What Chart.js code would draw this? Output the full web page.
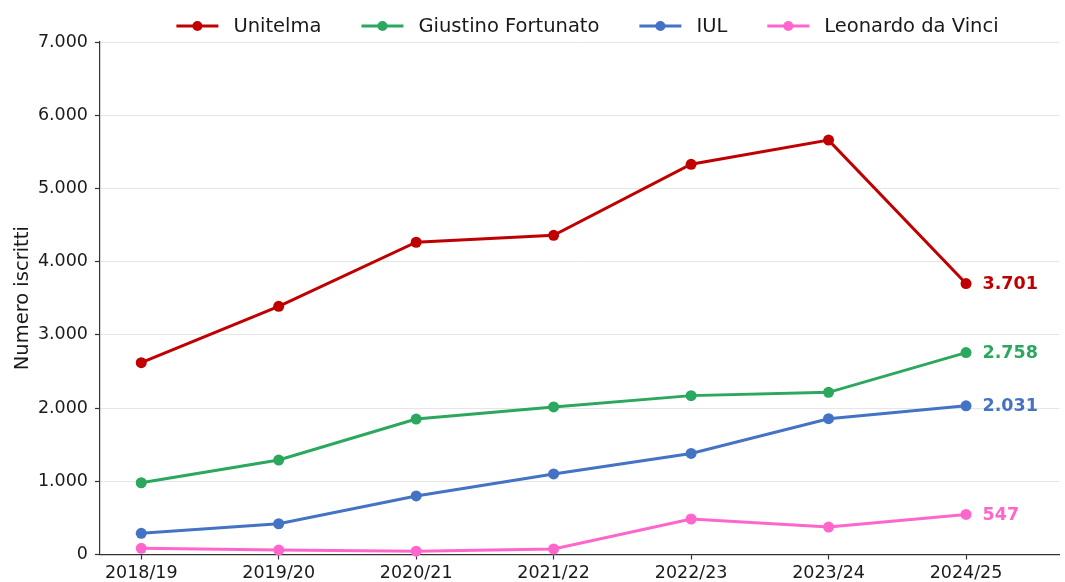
<!DOCTYPE html>
<html>
<head>
<meta charset="utf-8">
<script src="https://cdn.jsdelivr.net/npm/chart.js@4.4.1/dist/chart.umd.min.js"></script>
<style>
  html, body { margin: 0; padding: 0; background: #ffffff; overflow: hidden; }
  canvas { display: block; }
</style>
</head>
<body>
<canvas id="c" width="1065" height="582" style="width:1065px;height:582px"></canvas>
<script>
// ---- data ----
const categories = ['2018/19', '2019/20', '2020/21', '2021/22', '2022/23', '2023/24', '2024/25'];
const seriesNames = ['Unitelma', 'Giustino Fortunato', 'IUL', 'Leonardo da Vinci'];
const unitelma = [2620, 3390, 4265, 4360, 5330, 5660, 3701];
const giustinoFortunato = [980, 1290, 1850, 2015, 2170, 2215, 2758];
const iul = [290, 420, 800, 1100, 1380, 1855, 2031];
const leonardoDaVinci = [85, 60, 45, 75, 485, 375, 547];
const yTicks = [0, 1000, 2000, 3000, 4000, 5000, 6000, 7000];
const yTitle = 'Numero iscritti';

const colors = ['#C00000', '#2BA75E', '#4472C4', '#FF66CC'];
const seriesValues = [unitelma, giustinoFortunato, iul, leonardoDaVinci];

const fmt = v => String(v).replace(/\B(?=(\d{3})+(?!\d))/g, '.');
const FONT = "'DejaVu Sans', sans-serif";

const datasets = seriesNames.map((name, k) => ({
  label: name,
  data: seriesValues[k].map((v, i) => ({ x: i, y: v })),
  borderColor: colors[k],
  backgroundColor: colors[k],
  pointBackgroundColor: colors[k],
  pointBorderColor: colors[k],
  borderWidth: 3,
  pointRadius: 5.5,
  pointBorderWidth: 0,
  tension: 0,
  clip: false
}));

// end-of-line value labels
const endLabels = {
  id: 'endLabels',
  afterDatasetsDraw(chart) {
    const ctx = chart.ctx;
    ctx.save();
    ctx.font = "bold 17.5px " + FONT;
    ctx.textAlign = 'left';
    ctx.textBaseline = 'middle';
    chart.data.datasets.forEach((ds, k) => {
      const meta = chart.getDatasetMeta(k);
      const pt = meta.data[meta.data.length - 1];
      const val = ds.data[ds.data.length - 1].y;
      ctx.fillStyle = ds.borderColor;
      ctx.fillText(fmt(val), pt.x + 16.5, pt.y + 1);
    });
    ctx.restore();
  }
};

// legend (line + marker, like the reference)
const lineLegend = {
  id: 'lineLegend',
  afterDraw(chart) {
    const ctx = chart.ctx;
    ctx.save();
    ctx.font = "19.5px " + FONT;
    ctx.textBaseline = 'middle';
    ctx.textAlign = 'left';
    const symW = 42, gapT = 15, gapI = 40;
    const items = chart.data.datasets.map(ds => ({ ds, w: ctx.measureText(ds.label).width }));
    const total = items.reduce((s, it) => s + symW + gapT + it.w, 0) + gapI * (items.length - 1);
    let x = 587.5 - total / 2;
    const y = 26;
    items.forEach(it => {
      ctx.strokeStyle = it.ds.borderColor;
      ctx.lineWidth = 3;
      ctx.beginPath();
      ctx.moveTo(x, y);
      ctx.lineTo(x + symW, y);
      ctx.stroke();
      ctx.fillStyle = it.ds.borderColor;
      ctx.beginPath();
      ctx.arc(x + symW / 2, y, 5, 0, Math.PI * 2);
      ctx.fill();
      ctx.fillStyle = '#1a1a1a';
      ctx.fillText(it.ds.label, x + symW + gapT, y + 1);
      x += symW + gapT + it.w + gapI;
    });
    ctx.restore();
  }
};

new Chart(document.getElementById('c'), {
  type: 'line',
  data: { datasets },
  options: {
    responsive: false,
    maintainAspectRatio: false,
    devicePixelRatio: 1,
    animation: false,
    layout: { padding: { top: 42, right: 0, left: 0, bottom: 0 } },
    plugins: {
      legend: { display: false },
      tooltip: { enabled: false }
    },
    scales: {
      x: {
        type: 'linear',
        min: -0.3,
        max: 6.68,
        afterBuildTicks: s => { s.ticks = categories.map((_, i) => ({ value: i })); },
        afterFit: s => { s.height = 27.5; s.paddingRight = 0; s.paddingLeft = 0; },
        ticks: {
          callback: v => categories[v] ?? '',
          font: { family: FONT, size: 17.5 },
          color: '#1a1a1a',
          padding: 3,
          maxRotation: 0,
          autoSkip: false,
          includeBounds: false
        },
        grid: {
          display: true,
          drawOnChartArea: false,
          drawTicks: true,
          tickLength: 5,
          tickColor: '#333333',
          tickWidth: 1.2
        },
        border: { display: true, color: '#333333', width: 1.2 }
      },
      y: {
        min: 0,
        max: 7000,
        afterBuildTicks: s => { s.ticks = yTicks.map(v => ({ value: v })); },
        afterFit: s => { s.width = 100; },
        ticks: {
          callback: v => fmt(v),
          font: { family: FONT, size: 17.5 },
          color: '#1a1a1a',
          padding: 7
        },
        grid: {
          color: '#e6e6e6',
          lineWidth: 1,
          drawTicks: true,
          tickLength: 5,
          tickColor: '#333333',
          tickWidth: 1.2
        },
        border: { display: true, color: '#333333', width: 1.2 },
        title: {
          display: true,
          text: yTitle,
          font: { family: FONT, size: 19.5 },
          color: '#1a1a1a',
          padding: { top: 11, bottom: 0 }
        }
      }
    }
  },
  plugins: [endLabels, lineLegend]
});
</script>
</body>
</html>
